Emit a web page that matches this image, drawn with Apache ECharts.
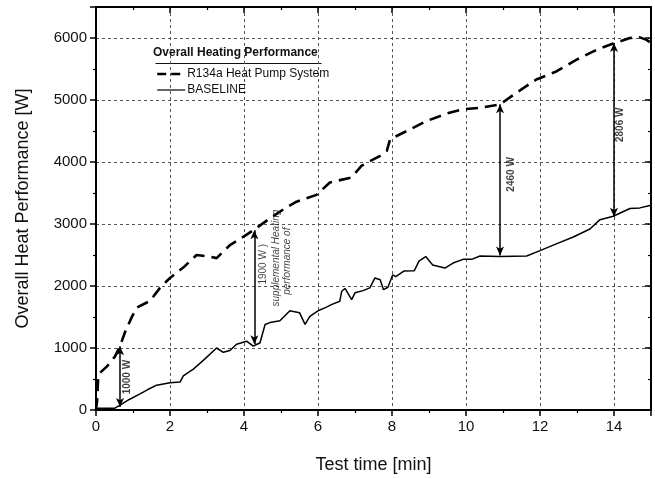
<!DOCTYPE html>
<html>
<head>
<meta charset="utf-8">
<script src="https://cdn.jsdelivr.net/npm/echarts@6/dist/echarts.min.js"></script>
<style>
  html, body { margin: 0; padding: 0; background: #fff; }
  #chart { width: 655px; height: 479px; }
</style>
</head>
<body>
<div id="chart"></div>
<script>
// R134a heat pump system, [min, W]
const heatPump = [
  [0, 0], [0.03, 150], [0.06, 550], [0.11, 600], [0.29, 700], [0.51, 860], [0.65, 1030],
  [0.78, 1250], [0.96, 1490], [1.1, 1650], [1.46, 1760], [1.73, 1970], [2.0, 2130],
  [2.4, 2320], [2.72, 2500], [3.0, 2480], [3.26, 2450], [3.62, 2660], [4.0, 2800],
  [4.25, 2900], [4.7, 3090], [5.1, 3250], [5.42, 3360], [5.96, 3470], [6.32, 3670],
  [6.9, 3750], [7.18, 3940], [7.68, 4100], [7.86, 4180], [7.95, 4370], [8.4, 4500],
  [8.93, 4660], [9.47, 4780], [9.92, 4850], [10.38, 4875], [10.92, 4930], [11.37, 5120],
  [11.9, 5330], [12.44, 5460], [12.99, 5650], [13.53, 5810], [13.98, 5910], [14.43, 6000],
  [14.7, 6010], [14.88, 5970], [15, 5920]
]

// baseline, [min, W]
const baseline = [
  [0, 30], [0.51, 30], [0.65, 80], [0.9, 170], [1.19, 260], [1.4, 330], [1.64, 400], [2.0, 440],
  [2.27, 450], [2.36, 550], [2.63, 660], [2.9, 800], [3.26, 1000], [3.44, 930],
  [3.62, 960], [3.8, 1060], [4.07, 1110], [4.25, 1030], [4.35, 1060], [4.43, 1080],
  [4.57, 1380], [4.7, 1410], [4.97, 1440], [5.24, 1600], [5.5, 1570], [5.65, 1380],
  [5.78, 1510], [6.0, 1600], [6.23, 1660], [6.36, 1700], [6.59, 1755], [6.64, 1915],
  [6.73, 1960], [6.91, 1780], [7.0, 1890], [7.22, 1925], [7.4, 1970], [7.54, 2130],
  [7.68, 2100], [7.77, 1940], [7.89, 1980], [8.02, 2180], [8.1, 2150], [8.32, 2240],
  [8.6, 2245], [8.73, 2400], [8.91, 2475], [9.1, 2340], [9.43, 2290], [9.65, 2370],
  [9.92, 2430], [10.15, 2430], [10.38, 2485], [10.92, 2475], [11.64, 2485], [12.0, 2570],
  [12.44, 2680], [12.9, 2790], [13.35, 2920], [13.62, 3070], [13.98, 3125], [14.43, 3250],
  [14.7, 3260], [14.97, 3300], [15, 3320]
]

// difference arrows: [x, yFrom, yTo]
const arrows = [
  [0.65, 50, 1030],
  [4.28, 1060, 2900],
  [10.92, 2490, 4930],
  [14.0, 3115, 5920]
]

// rotated annotation texts: [x, y, text, style]
const notes = [
  [0.84, 530, '1000 W', 'bold'],
  [4.52, 2350, '1900 W )', 'normal'],
  [4.87, 2450, 'supplemental Heating', 'italic'],
  [5.17, 2400, 'performance of', 'italic'],
  [11.23, 3800, '2460 W', 'bold'],
  [14.17, 4600, '2806 W', 'bold']
]

const font = 'Liberation Sans, Arial, sans-serif'
const chart = echarts.init(document.getElementById('chart'))

const baseAxis = {
  axisLine: { show: true, onZero: false, lineStyle: { color: '#000', width: 2 } },
  axisTick: { show: true, length: 6, lineStyle: { color: '#000', width: 1.5 } },
  minorTick: { show: true, splitNumber: 2, length: 3, lineStyle: { color: '#000', width: 1.2 } },
  splitLine: { show: false }
}

chart.setOption({
  animation: false,
  backgroundColor: '#fff',
  grid: { left: 96, right: 4, top: 7, bottom: 66 },
  legend: {
    orient: 'vertical',
    left: 151,
    top: 63,
    itemWidth: 28,
    itemHeight: 12,
    itemGap: 4,
    itemStyle: { opacity: 0 },
    textStyle: { fontFamily: font, fontSize: 12, color: '#111', padding: [0, 0, 0, -3] },
    data: [
      { name: 'R134a Heat Pump System', lineStyle: { type: [9, 5], width: 2.4 } },
      { name: 'BASELINE', lineStyle: { width: 1.2 } }
    ]
  },
  graphic: [
    {
      type: 'text', left: 153, top: 47,
      style: { text: 'Overall Heating Performance', font: 'bold 12px ' + font, fill: '#111' }
    },
    {
      type: 'line', left: 153, top: 61,
      shape: { x1: 0, y1: 0, x2: 166, y2: 0 },
      style: { stroke: '#111', lineWidth: 1.2 }
    }
  ],
  xAxis: [
    Object.assign({}, baseAxis, {
      type: 'value', min: 0, max: 15, interval: 2,
      name: 'Test time [min]', nameLocation: 'middle', nameGap: 46,
      nameTextStyle: { fontFamily: font, fontSize: 18, color: '#111' },
      axisLabel: { fontFamily: font, fontSize: 15, color: '#111', margin: 9, showMaxLabel: false },
      splitLine: { show: true, lineStyle: { color: '#555', type: [3, 3], width: 1 } }
    }),
    Object.assign({}, baseAxis, {
      type: 'value', min: 0, max: 15, interval: 2, position: 'top',
      axisTick: { show: true, inside: true, length: 6, lineStyle: { color: '#000', width: 1.5 } },
      minorTick: { show: true, splitNumber: 2, length: 3, lineStyle: { color: '#000', width: 1.2 } },
      axisLabel: { show: false }
    })
  ],
  yAxis: [
    Object.assign({}, baseAxis, {
      type: 'value', min: 0, max: 6500, interval: 1000,
      name: 'Overall Heat Performance [W]', nameLocation: 'middle', nameGap: 64,
      nameTextStyle: { fontFamily: font, fontSize: 18, color: '#111' },
      axisLabel: {
        fontFamily: font, fontSize: 15, color: '#111', margin: 9, showMaxLabel: false,
        formatter: v => String(v)
      },
      splitLine: { show: true, lineStyle: { color: '#555', type: [3, 3], width: 1 } }
    }),
    Object.assign({}, baseAxis, {
      type: 'value', min: 0, max: 6500, interval: 1000, position: 'right',
      axisTick: { show: true, inside: true, length: 6, lineStyle: { color: '#000', width: 1.5 } },
      minorTick: { show: true, splitNumber: 2, length: 3, lineStyle: { color: '#000', width: 1.2 } },
      axisLabel: { show: false }
    })
  ],
  series: [
    {
      name: 'R134a Heat Pump System',
      type: 'line',
      data: heatPump,
      showSymbol: false,
      symbol: 'none',
      color: '#000',
      lineStyle: { color: '#000', width: 2.6, type: [12, 7] },
      z: 3
    },
    {
      name: 'BASELINE',
      type: 'line',
      data: baseline,
      showSymbol: false,
      symbol: 'none',
      color: '#000',
      lineStyle: { color: '#000', width: 1.5 },
      z: 3,
      markLine: {
        silent: true,
        symbol: ['arrow', 'arrow'],
        symbolSize: [6, 9],
        label: { show: false },
        lineStyle: { color: '#000', width: 1.5, type: 'solid' },
        data: arrows.map(a => [{ coord: [a[0], a[1]] }, { coord: [a[0], a[2]] }])
      }
    },
    {
      name: 'notes',
      type: 'scatter',
      symbolSize: 0,
      silent: true,
      data: notes.map(n => ({
        value: [n[0], n[1]],
        label: {
          show: true,
          position: 'inside',
          rotate: 90,
          formatter: n[2],
          fontFamily: font,
          fontSize: 10,
          color: '#111',
          fontWeight: n[3] === 'bold' ? 'bold' : 'normal',
          fontStyle: n[3] === 'italic' ? 'italic' : 'normal'
        }
      })),
      z: 4
    }
  ]
})
</script>
</body>
</html>
